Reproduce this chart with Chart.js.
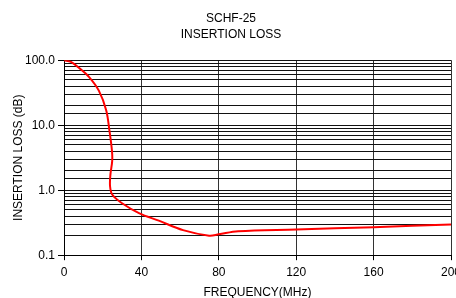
<!DOCTYPE html>
<html>
<head>
<meta charset="utf-8">
<script src="https://cdn.jsdelivr.net/npm/chart.js@4"></script>
<style>
  html, body { margin: 0; padding: 0; background: #fff; overflow: hidden; }
  #wrap { width: 480px; height: 300px; }
</style>
</head>
<body>
<div id="wrap"><canvas id="chart" width="480" height="300"></canvas></div>
<script>
// Frequency (MHz) and insertion loss (dB)
const freqMHz = [0, 3.6, 8, 13, 18, 21.8, 23.5, 24.8, 24.9, 24, 23.8, 25, 30, 39, 49, 61.5, 75, 80, 90, 120, 160, 200];
const lossDb = [100, 94, 75, 55, 34, 17, 8.2, 4.0, 2.8, 1.75, 1.15, 0.85, 0.63, 0.44, 0.34, 0.243, 0.2, 0.21, 0.234, 0.249, 0.27, 0.297];
const titleLines = ['SCHF-25', 'INSERTION LOSS'];

const isDecade = v => Math.abs(Math.log10(v) - Math.round(Math.log10(v))) < 1e-9;

const ctx = document.getElementById('chart').getContext('2d');
const chart = new Chart(ctx, {
    type: 'line',
    data: {
        datasets: [{
            data: freqMHz.map((f, i) => ({ x: f, y: lossDb[i] })),
            borderColor: '#ff0000',
            borderWidth: 2,
            pointRadius: 0,
            tension: 0.35,
            fill: false
        }]
    },
    options: {
        responsive: false,
        animation: false,
        layout: { padding: { left: 11, right: 29, top: 11, bottom: 0 } },
        plugins: {
            legend: { display: false },
            tooltip: { enabled: false },
            title: {
                display: true,
                text: titleLines,
                color: '#000',
                font: { family: 'Liberation Sans', size: 12, weight: 'normal', lineHeight: 1.3 },
                padding: { top: 0, bottom: 18 }
            }
        },
        scales: {
            x: {
                type: 'linear',
                min: 0,
                max: 200,
                ticks: { stepSize: 40, color: '#000', font: { family: 'Liberation Sans', size: 12 }, padding: 5 },
                grid: { color: '#333', lineWidth: 1, tickLength: 5, tickColor: '#000' },
                border: { color: '#000', width: 1 },
                title: {
                    display: true,
                    text: 'FREQUENCY(MHz)',
                    color: '#000',
                    font: { family: 'Liberation Sans', size: 12 },
                    padding: { top: 1, bottom: 0 }
                }
            },
            y: {
                type: 'logarithmic',
                min: 0.1,
                max: 100,
                afterFit: s => { s.width = 53; },
                ticks: {
                    color: '#000',
                    font: { family: 'Liberation Sans', size: 12 },
                    padding: 3,
                    autoSkip: false,
                    callback: v => isDecade(v) ? Number(v).toFixed(1) : ''
                },
                grid: {
                    color: '#111',
                    lineWidth: 1,
                    tickLength: 6,
                    tickColor: c => (c.tick && isDecade(c.tick.value)) ? '#000' : 'rgba(0,0,0,0)'
                },
                border: { color: '#000', width: 1 },
                title: {
                    display: true,
                    text: 'INSERTION LOSS (dB)',
                    color: '#000',
                    font: { family: 'Liberation Sans', size: 12 },
                    padding: { top: 0, bottom: 0 }
                }
            }
        }
    }
});
</script>
</body>
</html>
